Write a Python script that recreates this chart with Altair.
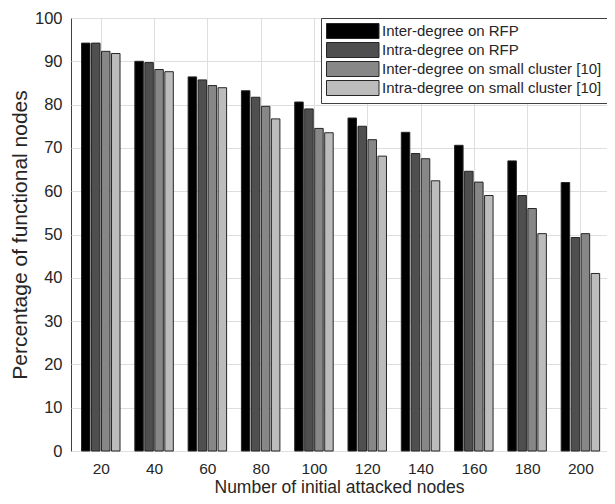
import altair as alt
import pandas as pd

groups = [20, 40, 60, 80, 100, 120, 140, 160, 180, 200]
series = [
    "Inter-degree on RFP",
    "Intra-degree on RFP",
    "Inter-degree on small cluster [10]",
    "Intra-degree on small cluster [10]",
]
inter_rfp = [94.2, 90.0, 86.4, 83.2, 80.6, 76.9, 73.6, 70.6, 67.0, 62.0]
intra_rfp = [94.2, 89.7, 85.7, 81.7, 79.0, 75.0, 68.7, 64.6, 59.0, 49.3]
inter_small = [92.3, 88.1, 84.4, 79.6, 74.5, 71.9, 67.5, 62.1, 56.0, 50.2]
intra_small = [91.8, 87.6, 83.9, 76.7, 73.5, 68.1, 62.4, 59.0, 50.2, 41.0]
colors = ["#000000", "#4f4f4f", "#878787", "#bcbcbc"]

rows = []
for i, (name, vals) in enumerate(zip(series, [inter_rfp, intra_rfp, inter_small, intra_small])):
    for g, v in zip(groups, vals):
        rows.append({"group": g, "series": name, "idx": i, "value": v})
df = pd.DataFrame(rows)

font = "Liberation Sans"
text_color = "#262626"

bars = (
    alt.Chart(df)
    .transform_calculate(pos="datum.group + (datum.idx - 1.5) * 3.75")
    .mark_bar(size=8.5, stroke="#262626", strokeWidth=1)
    .encode(
        x=alt.X(
            "pos:Q",
            scale=alt.Scale(domain=[10.7, 208.1], nice=False, zero=False),
            axis=alt.Axis(
                values=groups,
                title="Number of initial attacked nodes",
                titleFontSize=17.5,
                labelFontSize=15.5,
                grid=True,
                ticks=False,
                domain=False,
                labelPadding=10,
                titlePadding=2,
            ),
        ),
        y=alt.Y(
            "value:Q",
            scale=alt.Scale(domain=[0, 100], nice=False),
            axis=alt.Axis(
                values=list(range(0, 101, 10)),
                title="Percentage of functional nodes",
                titleFontSize=21,
                labelFontSize=16.5,
                grid=True,
                ticks=False,
                domain=False,
                labelPadding=9,
                titlePadding=4,
            ),
        ),
        color=alt.Color(
            "series:N",
            sort=series,
            scale=alt.Scale(domain=series, range=colors),
            legend=alt.Legend(
                title=None,
                orient="top-right",
                offset=0,
                symbolType="M-1,-1H6V1H-1Z",
                symbolSize=225,
                symbolStrokeColor="#262626",
                symbolStrokeWidth=1,
                labelOffset=40,
                labelFontSize=15,
                labelFont=font,
                labelColor=text_color,
                labelLimit=400,
                fillColor="white",
                strokeColor="#404040",
                padding=5,
                rowPadding=-1,
            ),
        ),
    )
)

chart = (
    bars.properties(
        width=536,
        height=433,
        autosize=alt.AutoSizeParams(type="none"),
        padding={"left": 63, "top": 10, "right": 0, "bottom": 45},
    )
    .configure_view(stroke="#404040", strokeWidth=1)
    .configure_axis(
        labelFont=font,
        titleFont=font,
        labelColor=text_color,
        titleColor=text_color,
        titleFontWeight="normal",
        gridColor="#dedede",
        gridWidth=1,
    )
)

chart.save("out.html", embed_options={"renderer": "svg", "actions": False})
